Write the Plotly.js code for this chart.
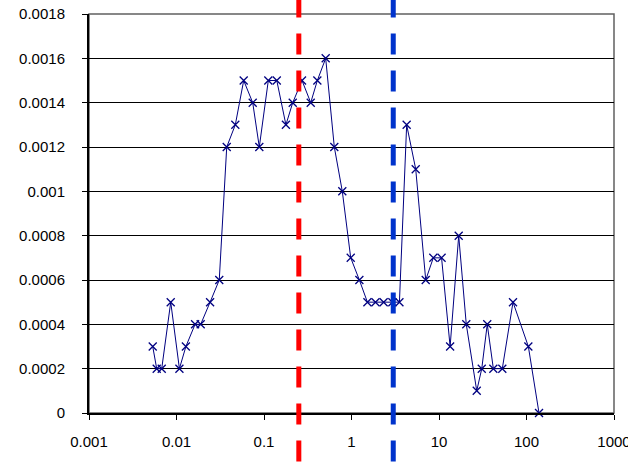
<!DOCTYPE html>
<html>
<head>
<meta charset="utf-8">
<script src="https://cdn.plot.ly/plotly-3.0.1.min.js"></script>
<style>html,body{margin:0;padding:0;background:#fff;}#chart{width:628px;height:466px;}</style>
</head>
<body>
<div id="chart"></div>
<script>
const xValues = [0.00535, 0.00594, 0.00678, 0.00859, 0.0108, 0.0128, 0.0163, 0.0189, 0.0242, 0.0308,
  0.0375, 0.047, 0.0586, 0.0743, 0.0884, 0.112, 0.140, 0.178, 0.213, 0.272,
  0.342, 0.407, 0.507, 0.636, 0.785, 0.98, 1.23, 1.52, 1.88, 2.33,
  2.93, 3.53, 4.27, 5.42, 7.05, 8.61, 10.7, 13.4, 16.8, 20.5,
  27.0, 30.8, 35.6, 41.8, 52.9, 70.1, 105, 139];
const yValues = [0.0003, 0.0002, 0.0002, 0.0005, 0.0002, 0.0003, 0.0004, 0.0004, 0.0005, 0.0006,
  0.0012, 0.0013, 0.0015, 0.0014, 0.0012, 0.0015, 0.0015, 0.0013, 0.0014, 0.0015,
  0.0014, 0.0015, 0.0016, 0.0012, 0.0010, 0.0007, 0.0006, 0.0005, 0.0005, 0.0005,
  0.0005, 0.0005, 0.0013, 0.0011, 0.0006, 0.0007, 0.0007, 0.0003, 0.0008, 0.0004,
  0.0001, 0.0002, 0.0004, 0.0002, 0.0002, 0.0005, 0.0003, 0];
const refLineValues = [0.25, 3];
const refLineColors = ['#FF0000', '#0033CC'];
const xTickVals = [0.001, 0.01, 0.1, 1, 10, 100, 1000];
const xTickText = ['0.001', '0.01', '0.1', '1', '10', '100', '1000'];
const yTickVals = [0, 0.0002, 0.0004, 0.0006, 0.0008, 0.001, 0.0012, 0.0014, 0.0016, 0.0018];
const yTickText = ['0', '0.0002', '0.0004', '0.0006', '0.0008', '0.001', '0.0012', '0.0014', '0.0016', '0.0018'];

const trace = {
  x: xValues, y: yValues, type: 'scatter', mode: 'lines+markers',
  line: {color: '#000080', width: 1},
  marker: {symbol: 'x-thin', size: 8, line: {color: '#000080', width: 1.3}, color: '#000080'},
  cliponaxis: false, hoverinfo: 'skip', showlegend: false
};

const shapes = [
  {type: 'rect', xref: 'paper', yref: 'paper', x0: 0, x1: 1, y0: 0, y1: 1,
   line: {color: '#606060', width: 1.5}, layer: 'below'}
];
refLineValues.forEach((v, i) => {
  shapes.push({type: 'line', xref: 'x', yref: 'paper', x0: v, x1: v, y0: 1.0439, y1: -0.16,
    line: {color: refLineColors[i], width: 5, dash: '21px,16px'}, layer: 'above'});
});

const layout = {
  width: 628, height: 466,
  margin: {l: 89, r: 14, t: 14, b: 53},
  paper_bgcolor: '#fff', plot_bgcolor: '#fff',
  font: {family: '"Liberation Sans", Arial, sans-serif', size: 15, color: '#000'},
  xaxis: {
    type: 'log', range: [-3, 3], tickvals: xTickVals, ticktext: xTickText,
    showgrid: false, zeroline: false, showline: true, linecolor: '#000', linewidth: 1.5,
    ticks: 'outside', ticklen: 5, tickcolor: '#000', tickwidth: 1,
    ticklabelstandoff: 9, ticklabeloverflow: 'allow', automargin: false
  },
  yaxis: {
    range: [0, 0.0018], tickvals: yTickVals, ticktext: yTickText,
    showgrid: true, gridcolor: '#000', gridwidth: 1, zeroline: false,
    showline: true, linecolor: '#000', linewidth: 2,
    ticks: 'outside', ticklen: 5, tickcolor: '#000', tickwidth: 1,
    ticklabelstandoff: 14, automargin: false
  },
  shapes: shapes,
  showlegend: false
};

Plotly.newPlot('chart', [trace], layout, {displayModeBar: false, staticPlot: true});
</script>
</body>
</html>
